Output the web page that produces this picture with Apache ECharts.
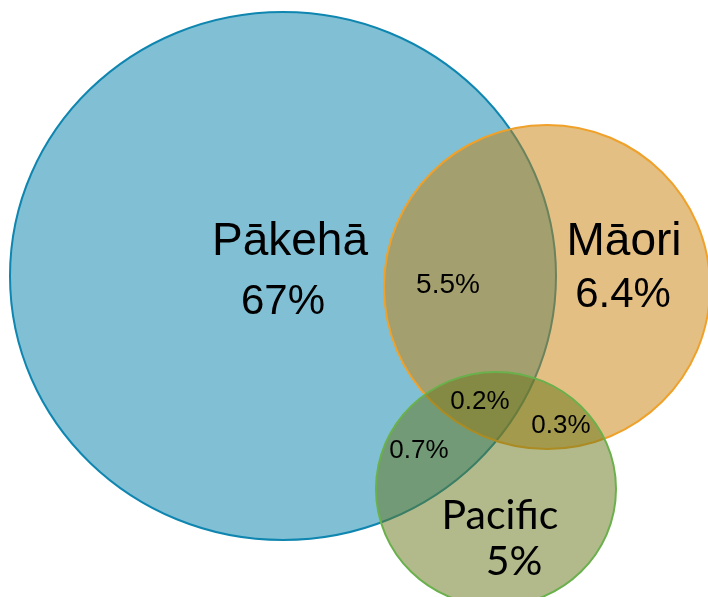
<!DOCTYPE html>
<html>
<head>
<meta charset="utf-8">
<script src="https://cdn.jsdelivr.net/npm/echarts@6/dist/echarts.min.js"></script>
<style>
  html, body { margin: 0; padding: 0; background: #fff; }
  #venn { width: 708px; height: 597px; }
</style>
</head>
<body>
<div id="venn"></div>
<script>
// groups and their shares
var groups = ['Pākehā', 'Māori', 'Pacific'];
var groupShares = ['67%', '6.4%', '5%'];
// overlap shares
var overlapNames = ['Pākehā+Māori', 'Pākehā+Māori+Pacific', 'Māori+Pacific', 'Pākehā+Pacific'];
var overlapShares = ['5.5%', '0.2%', '0.3%', '0.7%'];

// layout in a 708 x 597 plane
var circleLayout = [
    {cx: 283, cy: 276, rx: 273, ry: 264},
    {cx: 547, cy: 287, rx: 163, ry: 162},
    {cx: 496, cy: 489, rx: 120, ry: 117}
];
var groupLabelPos = [[290, 242, 283, 302], [624, 242, 623, 295], [500, 516, 514, 562]];
var overlapLabelPos = [[448, 285], [480, 402], [561, 426], [419, 451]];
var overlapFontSize = [28, 26, 26, 26];

var fills = ['rgba(1,127,169,0.5)', 'rgba(199,127,9,0.5)', 'rgba(101,117,25,0.5)'];
var strokes = ['#0f86b0', '#f0a12a', '#6ab04c'];

var chart = echarts.init(document.getElementById('venn'));

var circleData = circleLayout.map(function (c, i) {
    return [c.cx, c.cy, c.rx, c.ry, i];
});

var textData = [];
groups.forEach(function (g, i) {
    var p = groupLabelPos[i];
    textData.push([p[0], p[1], g, i === 2 ? 'pac' : 'big']);
    textData.push([p[2], p[3], groupShares[i], i === 2 ? 'pac' : 'pct']);
});
overlapShares.forEach(function (s, i) {
    textData.push([overlapLabelPos[i][0], overlapLabelPos[i][1], s, overlapFontSize[i]]);
});

var fonts = {
    big: '46px Arial, "Liberation Sans", sans-serif',
    pct: '42px Arial, "Liberation Sans", sans-serif',
    pac: '41px Lato, Carlito, sans-serif'
};
function fontFor(k) {
    if (typeof k === 'number') return k + 'px Arial, "Liberation Sans", sans-serif';
    return fonts[k];
}

var option = {
    animation: false,
    grid: {left: 0, right: 0, top: 0, bottom: 0},
    xAxis: {type: 'value', min: 0, max: 708, show: false},
    yAxis: {type: 'value', min: 0, max: 597, inverse: true, show: false},
    series: [
        {
            type: 'custom',
            data: circleData,
            renderItem: function (params, api) {
                var c = api.coord([api.value(0), api.value(1)]);
                var s = api.size([api.value(2), api.value(3)]);
                var i = api.value(4);
                return {
                    type: 'ellipse',
                    shape: {cx: c[0], cy: c[1], rx: s[0], ry: s[1]},
                    style: {fill: fills[i], stroke: strokes[i], lineWidth: 2}
                };
            }
        },
        {
            type: 'custom',
            data: textData,
            renderItem: function (params, api) {
                var d = textData[params.dataIndex];
                var c = api.coord([d[0], d[1]]);
                return {
                    type: 'text',
                    x: c[0],
                    y: c[1],
                    style: {
                        text: d[2],
                        font: fontFor(d[3]),
                        fill: '#000',
                        align: 'center',
                        verticalAlign: 'middle'
                    }
                };
            }
        }
    ]
};
chart.setOption(option);
</script>
</body>
</html>
